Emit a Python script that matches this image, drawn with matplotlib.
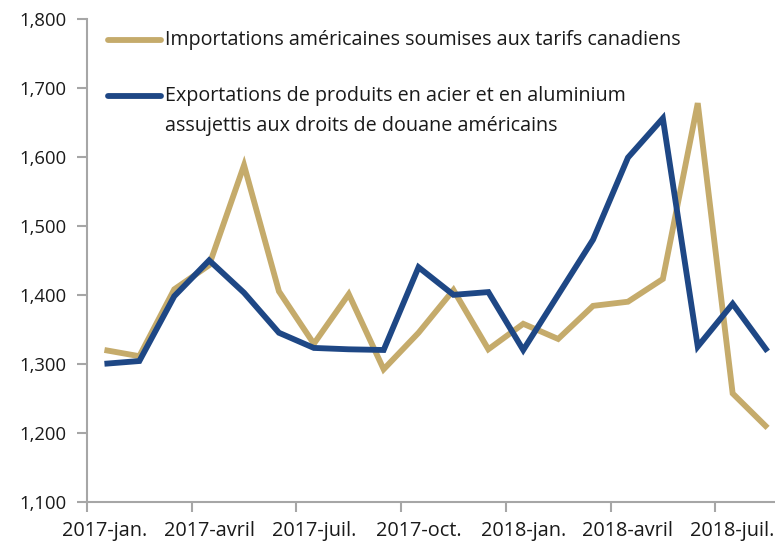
import matplotlib
matplotlib.use("Agg")
import matplotlib.pyplot as plt

months = ["2017-jan.", "2017-févr.", "2017-mars", "2017-avril", "2017-mai", "2017-juin",
          "2017-juil.", "2017-août", "2017-sept.", "2017-oct.", "2017-nov.", "2017-déc.",
          "2018-jan.", "2018-févr.", "2018-mars", "2018-avril", "2018-mai", "2018-juin",
          "2018-juil.", "2018-août"]
imports_us = [1320, 1311, 1408, 1443, 1588, 1405, 1329, 1401, 1292, 1345,
              1407, 1321, 1358, 1336, 1384, 1390, 1423, 1678, 1257, 1207]
exports_ca = [1300, 1304, 1398, 1450, 1403, 1345, 1323, 1321, 1320, 1440,
              1400, 1404, 1320, 1400, 1480, 1599, 1656, 1325, 1387, 1318]
label_imports = "Importations américaines soumises aux tarifs canadiens"
label_exports = ("Exportations de produits en acier et en aluminium\n"
                 "assujettis aux droits de douane américains")
yticks = [1100, 1200, 1300, 1400, 1500, 1600, 1700, 1800]

gold = "#C5AB6B"
blue = "#1E4785"
spine_c = "#A6A6A6"
font = ["Open Sans", "DejaVu Sans"]
plt.rcParams["font.family"] = font

W, H = 775, 546
fig = plt.figure(figsize=(W / 100, H / 100), dpi=100)
left, right, top, bottom = 87, 785, 19, 501.7
ax = fig.add_axes([left / W, (H - bottom) / H, (right - left) / W, (bottom - top) / H])

x = list(range(len(months)))
ax.plot(x, imports_us, color=gold, lw=4.2, solid_joinstyle="miter", solid_capstyle="butt", clip_on=False)
ax.plot(x, exports_ca, color=blue, lw=4.2, solid_joinstyle="miter", solid_capstyle="butt", clip_on=False)

ax.set_xlim(-0.5, len(months) - 0.5)
ax.set_ylim(1100, 1800)
ax.set_yticks(yticks)
ax.set_yticklabels([f"{v:,}" for v in yticks])

ax.set_xticks([i - 0.5 for i in range(0, len(months), 3)])
ax.set_xticklabels([])
ax.set_xticks(list(range(0, len(months), 3)), minor=True)
ax.set_xticklabels([months[i] for i in range(0, len(months), 3)], minor=True)
ax.tick_params(axis="x", which="minor", length=0, pad=14, labelsize=14.3, labelcolor="#1a1a1a")
ax.tick_params(axis="x", which="major", length=7, width=1.5, color=spine_c)
ax.tick_params(axis="y", length=7, width=1.5, color=spine_c, labelsize=13.3, pad=8,
               labelcolor="#1a1a1a")

for s in ["top", "right"]:
    ax.spines[s].set_visible(False)
for s in ["left", "bottom"]:
    ax.spines[s].set_color(spine_c)
    ax.spines[s].set_linewidth(1.5)

# legend drawn manually
def ax_frac_x(px):
    return (px - left) / (right - left)

def ax_frac_y(py):
    return (bottom - py) / (bottom - top)

for py, ty, col, lab in [(40, 40, gold, label_imports), (96, 111, blue, label_exports)]:
    ax.plot([ax_frac_x(108), ax_frac_x(161)], [ax_frac_y(py)] * 2, color=col, lw=4.2,
            solid_capstyle="round", transform=ax.transAxes, clip_on=False)
    ax.text(ax_frac_x(165), ax_frac_y(ty), lab, transform=ax.transAxes, fontsize=14.2,
            va="center", ha="left", linespacing=1.6, color="#1a1a1a")

fig.savefig("out.png", dpi=100)
